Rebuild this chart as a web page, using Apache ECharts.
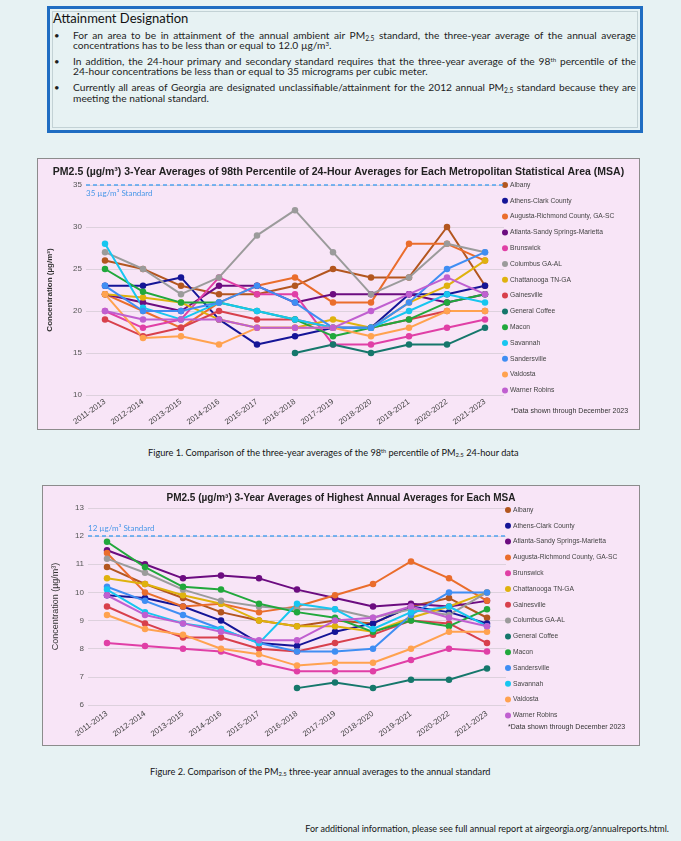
<!DOCTYPE html>
<html><head><meta charset="utf-8">
<script src="https://cdn.jsdelivr.net/npm/echarts@6/dist/echarts.min.js"></script>
<style>
html,body{margin:0;padding:0;}
body{width:681px;height:841px;background:#e7f2f3;position:relative;overflow:hidden;font-family:Lato,"Open Sans",sans-serif;color:#1e1e1e;}
#box{position:absolute;left:47px;top:6px;width:596px;height:127px;border:3px solid #1f6dc2;box-sizing:border-box;}
#inner{position:absolute;left:2px;top:2px;right:2px;bottom:2px;border:1px solid #c3d2d5;}
.t{position:absolute;white-space:nowrap;}
.h{left:53px;top:10px;font-size:13px;color:#111;}
.ln{position:absolute;left:73px;width:563px;font-size:10.2px;line-height:11px;}
.j{text-align:justify;text-align-last:justify;}
.b{position:absolute;left:54px;font-size:9.5px;line-height:11px;}
sub{font-size:0.65em;vertical-align:-0.25em;line-height:0;}
sup{font-size:0.6em;vertical-align:0.5em;line-height:0;}
.chart{position:absolute;border:1px solid #8c8c8c;box-sizing:border-box;background:#f8e5f7;}
.cap{position:absolute;font-size:9.2px;white-space:nowrap;color:#151515;}
</style></head>
<body>
<div id="box"><div id="inner"></div></div>
<div class="t h">Attainment Designation</div>
<div class="b" style="top:30px">•</div>
<div class="ln j" style="top:30px">For an area to be in attainment of the annual ambient air PM<sub>2.5</sub> standard, the three-year average of the annual average</div>
<div class="ln" style="top:40px">concentrations has to be less than or equal to 12.0 µg/m<sup>3</sup>.</div>
<div class="b" style="top:56px">•</div>
<div class="ln j" style="top:56px">In addition, the 24-hour primary and secondary standard requires that the three-year average of the 98<sup>th</sup> percentile of the</div>
<div class="ln" style="top:66px">24-hour concentrations be less than or equal to 35 micrograms per cubic meter.</div>
<div class="b" style="top:82px">•</div>
<div class="ln j" style="top:82px">Currently all areas of Georgia are designated unclassifiable/attainment for the 2012 annual PM<sub>2.5</sub> standard because they are</div>
<div class="ln" style="top:93px">meeting the national standard.</div>

<div id="c1" class="chart" style="left:37px;top:158px;width:603px;height:272px;"></div>
<div class="cap" style="left:148px;top:447px;">Figure 1. Comparison of the three-year averages of the 98<sup>th</sup> percentile of PM<sub>2.5</sub> 24-hour data</div>
<div id="c2" class="chart" style="left:42px;top:485px;width:598px;height:261px;"></div>
<div class="cap" style="left:150px;top:766px;">Figure 2. Comparison of the PM<sub>2.5</sub> three-year annual averages to the annual standard</div>
<div class="cap" style="right:12px;top:823px;font-size:9px;">For additional information, please see full annual report at airgeorgia.org/annualreports.html.</div>

<script>
const categories = ['2011-2013','2012-2014','2013-2015','2014-2016','2015-2017','2016-2018','2017-2019','2018-2020','2019-2021','2020-2022','2021-2023'];

// Figure 1: 98th percentile 24-hour, 3-year averages
const p98Albany        = [26, 25, 23, 22, 22, 23, 25, 24, 24, 30, 23];
const p98Athens        = [23, 23, 24, 19, 16, 17, 18, 18, 22, 22, 23];
const p98Augusta       = [22, 20, 18, 21, 23, 24, 21, 21, 28, 28, 26];
const p98Atlanta       = [22, 21, 20, 23, 23, 21, 22, 22, 22, 21, 22];
const p98Brunswick     = [20, 18, 19, 24, 22, 22, 16, 16, 17, 18, 19];
const p98Columbus      = [27, 25, 22, 24, 29, 32, 27, 22, 24, 28, 27];
const p98Chattanooga   = [22, 21.6, 21, 19, 18, 18, 19, 18, 21, 23, 26];
const p98Gainesville   = [19, 17, 18, 20, 19, 19, 18, 18, 19, 20, 20];
const p98GeneralCoffee = [null, null, null, null, null, 15, 16, 15, 16, 16, 18];
const p98Macon         = [25, 22.3, 21, 21, 20, 19, 17, 18, 19, 21, 22];
const p98Savannah      = [28, 20.4, 19, 21, 20, 19, 18, 18, 20, 22, 21];
const p98Sandersville  = [23, 20, 20, 21, 23, 21, 18, 18, 21, 25, 27];
const p98Valdosta      = [22, 16.8, 17, 16, 18, 18, 18, 17, 18, 20, 20];
const p98WarnerRobins  = [20, 19, 19, 19, 18, 18, 18, 20, 22, 24, 22];

// Figure 2: highest annual averages, 3-year averages
const annAlbany        = [10.9, 10.3, 9.8, 9.3, 9.0, 8.8, 9.0, 8.9, 9.5, 9.8, 9.1];
const annAthens        = [9.9, 9.8, 9.5, 9.0, 8.2, 8.1, 8.6, 8.9, 9.5, 9.3, 8.9];
const annAtlanta       = [11.5, 11.0, 10.5, 10.6, 10.5, 10.1, 9.8, 9.5, 9.6, 9.5, 9.7];
const annAugusta       = [11.4, 10.0, 9.5, 9.6, 9.3, 9.5, 9.9, 10.3, 11.1, 10.5, 9.7];
const annBrunswick     = [8.2, 8.1, 8.0, 7.9, 7.5, 7.2, 7.2, 7.2, 7.6, 8.0, 7.9];
const annChattanooga   = [10.5, 10.3, 9.9, 9.6, 9.0, 8.8, 8.8, 8.6, 9.1, 9.5, 10.0];
const annGainesville   = [9.5, 8.9, 8.4, 8.4, 8.0, 7.9, 8.2, 8.5, 9.0, 8.9, 8.2];
const annColumbus      = [11.2, 10.7, 10.1, 9.7, 9.5, 9.4, 9.4, 9.1, 9.4, 9.2, 10.0];
const annGeneralCoffee = [null, null, null, null, null, 6.6, 6.8, 6.6, 6.9, 6.9, 7.3];
const annMacon         = [11.8, 10.9, 10.2, 10.1, 9.6, 9.3, 9.1, 8.6, 9.0, 8.8, 9.4];
const annSandersville  = [10.2, 9.7, 9.2, 8.7, 8.2, 7.9, 7.9, 8.0, 9.2, 10.0, 10.0];
const annSavannah      = [10.1, 9.3, 8.9, 8.7, 8.2, 9.6, 9.4, 8.7, 9.3, 9.5, 8.8];
const annValdosta      = [9.2, 8.7, 8.5, 8.0, 7.8, 7.4, 7.5, 7.5, 8.0, 8.6, 8.6];
const annWarnerRobins  = [9.9, 9.2, 8.9, 8.6, 8.3, 8.3, 9.0, 9.1, 9.5, 9.1, 8.8];

const colors = {
  'Albany':'#b3561f', 'Athens-Clark County':'#151597', 'Augusta-Richmond County, GA-SC':'#ea6d2c',
  'Atlanta-Sandy Springs-Marietta':'#6c0c80', 'Brunswick':'#e03fa6', 'Columbus GA-AL':'#9b9b9b',
  'Chattanooga TN-GA':'#dfb20e', 'Gainesville':'#d8404c', 'General Coffee':'#15776b',
  'Macon':'#21a83c', 'Savannah':'#17c6f0', 'Sandersville':'#3f8ef3', 'Valdosta':'#ffa24f',
  'Warner Robins':'#c05fd0'
};

const chart1Series = [
  ['Albany', p98Albany], ['Athens-Clark County', p98Athens], ['Augusta-Richmond County, GA-SC', p98Augusta],
  ['Atlanta-Sandy Springs-Marietta', p98Atlanta], ['Brunswick', p98Brunswick], ['Columbus GA-AL', p98Columbus],
  ['Chattanooga TN-GA', p98Chattanooga], ['Gainesville', p98Gainesville], ['General Coffee', p98GeneralCoffee],
  ['Macon', p98Macon], ['Savannah', p98Savannah], ['Sandersville', p98Sandersville], ['Valdosta', p98Valdosta],
  ['Warner Robins', p98WarnerRobins]
];
const chart2Series = [
  ['Albany', annAlbany], ['Athens-Clark County', annAthens], ['Atlanta-Sandy Springs-Marietta', annAtlanta],
  ['Augusta-Richmond County, GA-SC', annAugusta], ['Brunswick', annBrunswick], ['Chattanooga TN-GA', annChattanooga],
  ['Gainesville', annGainesville], ['Columbus GA-AL', annColumbus], ['General Coffee', annGeneralCoffee],
  ['Macon', annMacon], ['Sandersville', annSandersville], ['Savannah', annSavannah], ['Valdosta', annValdosta],
  ['Warner Robins', annWarnerRobins]
];

const FONT = '"Liberation Sans", Arial, sans-serif';

function build(cfg) {
  const series = cfg.series.map(([name, data], i) => ({
    name, type: 'line', data, symbol: 'circle', symbolSize: 6.5,
    lineStyle: { width: 2, color: colors[name] }, itemStyle: { color: colors[name] },
    emphasis: { disabled: true }, z: 2,
    markLine: i === 0 ? {
      silent: true, symbol: ['none', 'none'],
      lineStyle: { color: '#4fa3ef', type: [4, 3], width: 1.5 },
      label: { show: true, position: cfg.stdPos, formatter: cfg.stdLabel, color: '#4a98e8',
               fontSize: 8, fontFamily: 'Lato, sans-serif', distance: [0, 4] },
      data: [{ yAxis: cfg.std }]
    } : undefined
  }));
  return {
    animation: false,
    backgroundColor: 'transparent',
    title: { text: cfg.title, left: 'center', top: cfg.titleTop,
             textStyle: { fontSize: cfg.titleSize, fontWeight: 'bold', color: '#222', fontFamily: FONT } },
    legend: {
      orient: 'vertical', left: cfg.legLeft, top: cfg.legTop, icon: 'circle',
      itemWidth: 6, itemHeight: 6, itemGap: 5.8, padding: 0,
      data: cfg.series.map(s => s[0]),
      textStyle: { fontSize: 6.7, color: '#444', fontFamily: FONT, lineHeight: 10, padding: [0, 0, 0, -3] },
      selectedMode: false
    },
    grid: cfg.grid,
    xAxis: {
      type: 'category', data: categories, boundaryGap: true,
      axisLine: { show: false }, axisTick: { show: false },
      axisLabel: { rotate: 35, fontSize: 8, color: '#444', fontFamily: FONT, margin: cfg.xMargin, interval: 0 }
    },
    yAxis: {
      type: 'value', min: cfg.min, max: cfg.max, interval: cfg.interval,
      name: 'Concentration (µg/m³)', nameLocation: 'middle', nameGap: cfg.nameGap,
      nameTextStyle: cfg.nameStyle,
      axisLine: { show: false }, axisTick: { show: false },
      axisLabel: { fontSize: 8, color: '#555', fontFamily: FONT, margin: 4 },
      splitLine: { lineStyle: { color: '#ddd1dd', width: 1 } }
    },
    graphic: [{ type: 'text', left: cfg.noteLeft, top: cfg.noteTop,
      style: { text: '*Data shown through December 2023', fontSize: 7, fill: '#333', fontFamily: FONT } }],
    series
  };
}

const c1 = echarts.init(document.getElementById('c1'), null, { renderer: 'canvas' });
c1.setOption(build({
  title: 'PM2.5 (µg/m³) 3-Year Averages of 98th Percentile of 24-Hour Averages for Each Metropolitan Statistical Area (MSA)',
  titleTop: 3, titleSize: 10.5, series: chart1Series,
  legLeft: 464, legTop: 21,
  grid: { left: 44, right: 135, top: 26, bottom: 34 },
  min: 10, max: 35, interval: 5, std: 35, stdPos: 'insideStartBottom', stdLabel: '35 µg/m³ Standard',
  xMargin: 6, nameGap: 32,
  nameStyle: { fontSize: 8, fontWeight: 'bold', color: '#333', fontFamily: FONT },
  noteLeft: 473, noteTop: 249
}));

const c2 = echarts.init(document.getElementById('c2'), null, { renderer: 'canvas' });
c2.setOption(build({
  title: 'PM2.5 (µg/m³) 3-Year Averages of Highest Annual Averages for Each MSA',
  titleTop: 2, titleSize: 10, series: chart2Series,
  legLeft: 462, legTop: 19,
  grid: { left: 42, right: 133, top: 22, bottom: 40 },
  min: 6, max: 13, interval: 1, std: 12, stdPos: 'insideStartTop', stdLabel: '12 µg/m³ Standard',
  xMargin: 8, nameGap: 28,
  nameStyle: { fontSize: 9, color: '#333', fontFamily: FONT },
  noteLeft: 465, noteTop: 238
}));
</script>
</body></html>
